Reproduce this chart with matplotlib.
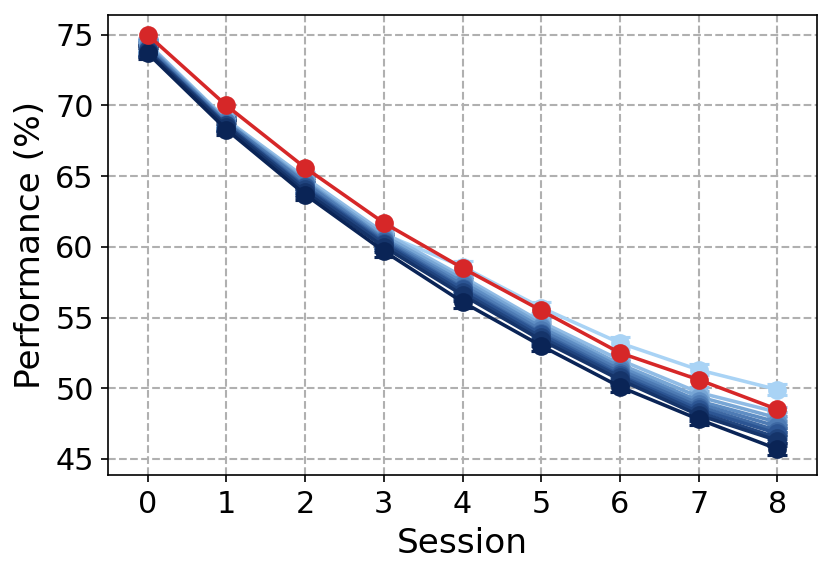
import matplotlib
matplotlib.use("Agg")
import matplotlib.pyplot as plt
from matplotlib.colors import LinearSegmentedColormap
import numpy as np

sessions = [0, 1, 2, 3, 4, 5, 6, 7, 8]

blue_series = [
    [74.2, 68.9, 64.6, 60.9, 58.6, 55.7, 53.2, 51.3, 49.9],
    [74.4, 69.0, 64.9, 61.0, 57.9, 54.7, 52.0, 49.7, 48.3],
    [74.3, 68.9, 64.7, 60.8, 57.7, 54.5, 51.7, 49.4, 47.9],
    [74.2, 68.8, 64.6, 60.6, 57.5, 54.3, 51.5, 49.1, 47.6],
    [74.1, 68.8, 64.5, 60.5, 57.3, 54.1, 51.3, 48.9, 47.3],
    [74.0, 68.7, 64.3, 60.4, 57.1, 53.9, 51.1, 48.7, 47.0],
    [73.9, 68.6, 64.2, 60.3, 57.0, 53.8, 50.9, 48.5, 46.8],
    [73.9, 68.6, 64.1, 60.2, 56.8, 53.6, 50.8, 48.3, 46.5],
    [73.8, 68.5, 63.9, 60.0, 56.6, 53.4, 50.6, 48.1, 46.3],
    [73.7, 68.3, 63.7, 59.7, 56.1, 53.0, 50.1, 47.8, 45.7],
]
blue_errors = [
    [0.4, 0.4, 0.4, 0.4, 0.4, 0.4, 0.4, 0.4, 0.4],
    [0.4, 0.4, 0.4, 0.4, 0.4, 0.4, 0.4, 0.4, 0.4],
    [0.4, 0.4, 0.4, 0.4, 0.4, 0.4, 0.4, 0.4, 0.4],
    [0.4, 0.4, 0.4, 0.4, 0.4, 0.4, 0.4, 0.4, 0.4],
    [0.4, 0.4, 0.4, 0.4, 0.4, 0.4, 0.4, 0.4, 0.4],
    [0.4, 0.4, 0.4, 0.4, 0.4, 0.4, 0.4, 0.4, 0.4],
    [0.4, 0.4, 0.4, 0.4, 0.4, 0.4, 0.4, 0.4, 0.4],
    [0.4, 0.4, 0.4, 0.4, 0.4, 0.4, 0.4, 0.4, 0.4],
    [0.4, 0.4, 0.4, 0.4, 0.4, 0.4, 0.4, 0.4, 0.4],
    [0.4, 0.4, 0.4, 0.4, 0.4, 0.4, 0.4, 0.4, 0.4],
]
red_series = [75.0, 70.0, 65.6, 61.7, 58.5, 55.5, 52.5, 50.6, 48.5]

cmap = LinearSegmentedColormap.from_list(
    "blues_custom", ["#a9d3f5", "#5f8ec4", "#2c5593", "#0a2456"])

fig, ax = plt.subplots(figsize=(832 / 150, 575 / 150), dpi=150)
n = len(blue_series)
for i, (vals, errs) in enumerate(zip(blue_series, blue_errors)):
    c = cmap(i / (n - 1))
    ax.errorbar(sessions, vals, yerr=errs, color=c, marker="o", markersize=8,
                linewidth=1.7, capsize=5, capthick=1.5, elinewidth=1.5, zorder=2 + i * 0.01)
ax.plot(sessions, red_series, color="#d62728", marker="o", markersize=8,
        linewidth=1.7, zorder=5)

ax.set_xlim(-0.5, 8.5)
ax.set_ylim(43.86, 76.4)
ax.set_xticks(sessions)
ax.set_yticks([45, 50, 55, 60, 65, 70, 75])
ax.tick_params(labelsize=14.5)
ax.set_xlabel("Session", fontsize=16.5)
ax.set_ylabel("Performance (%)", fontsize=16.5)
ax.grid(True, linestyle="--", color="#b0b0b0", linewidth=1)
ax.set_axisbelow(True)
fig.subplots_adjust(left=108.3 / 832, right=816.7 / 832, top=1 - 15 / 575, bottom=1 - 475 / 575)
fig.savefig("out.png", dpi=150)
